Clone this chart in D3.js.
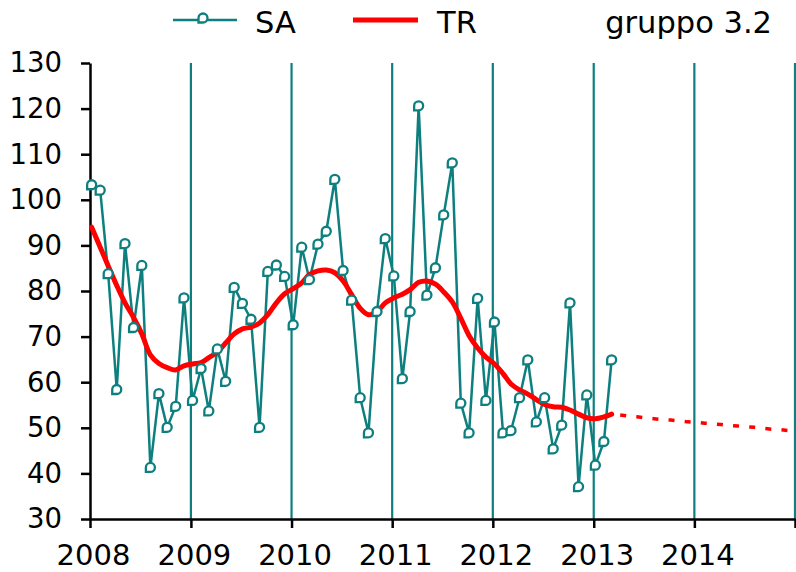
<!DOCTYPE html>
<html>
<head>
<meta charset="utf-8">
<script src="https://cdn.jsdelivr.net/npm/d3@7"></script>
<style>
  html, body { margin: 0; padding: 0; background: #fff; }
  svg { display: block; }
  text { font-family: "DejaVu Sans", Verdana, sans-serif; fill: #000; }
</style>
</head>
<body>
<svg id="chart" width="796" height="572"></svg>
<script>
// Monthly series, first observation January 2008
const firstMonth = "2008-01";

// Seasonally adjusted index (SA)
const saValues = [
  103.3, 102.1, 83.8, 58.4, 90.4, 72.0, 85.6, 41.3, 57.5, 50.1, 54.7, 78.5,
  56.0, 63.0, 53.7, 67.3, 60.2, 80.8, 77.3, 73.8, 50.1, 84.3, 85.7, 83.2,
  72.6, 89.6, 82.5, 90.3, 93.1, 104.5, 84.5, 78.0, 56.6, 48.9, 75.5, 91.5,
  83.3, 60.8, 75.5, 120.6, 79.1, 85.1, 96.7, 108.1, 55.4, 48.9, 78.4, 56.0,
  73.2, 48.9, 49.4, 56.6, 64.9, 51.3, 56.6, 45.4, 50.6, 77.4, 37.1, 57.2,
  41.8, 47.0, 64.9
];

// Trend-cycle (TR)
const trValues = [
  94.0, 89.6, 85.5, 81.2, 77.4, 74.2, 70.6, 66.0, 64.1, 63.2, 62.7, 63.6,
  64.0, 64.3, 65.4, 66.6, 68.6, 70.6, 71.7, 72.1, 73.0, 74.8, 77.4, 79.4,
  80.5, 81.8, 83.6, 84.4, 84.6, 84.0, 82.2, 79.2, 76.2, 74.8, 75.5, 77.4,
  78.5, 79.3, 80.3, 81.9, 82.2, 81.5, 79.8, 77.6, 74.0, 70.2, 67.5, 65.5,
  64.0, 61.9, 59.6, 58.3, 57.4, 56.2, 55.1, 54.6, 54.5, 53.9, 53.0, 52.2,
  52.0, 52.4, 53.0
];

// Trend projection, April 2013 – December 2014
const trForecast = [
  52.8, 52.6, 52.4, 52.2, 52.0, 51.8, 51.7, 51.5, 51.3,
  51.2, 51.0, 50.9, 50.7, 50.5, 50.4, 50.2, 50.1, 49.9, 49.7, 49.6, 49.4
];

const yTicks = [30, 40, 50, 60, 70, 80, 90, 100, 110, 120, 130];
const xTickYears = ["2008", "2009", "2010", "2011", "2012", "2013", "2014", "2015"];
const xLabelYears = ["2008", "2009", "2010", "2011", "2012", "2013", "2014"];
const gridYears = ["2009", "2010", "2011", "2012", "2013", "2014", "2015"];
const legendTitle = "gruppo 3.2";

const TEAL = "#0e7f7f";
const RED = "#ff0000";

const svg = d3.select("#chart");
const parseMonth = d3.utcParse("%Y-%m");
const parseYear = d3.utcParse("%Y");
const start = parseMonth(firstMonth);
// observations sit about a week into each month
const obsDate = i => d3.utcDay.offset(d3.utcMonth.offset(start, i), 6);

const x = d3.scaleUtc()
  .domain([parseYear("2008"), parseYear("2015")])
  .range([90, 795]);
const y = d3.scaleLinear().domain([30, 130]).range([519, 63]);

const sa = saValues.map((v, i) => ({ date: obsDate(i), v }));
const tr = trValues.map((v, i) => ({ date: obsDate(i), v }));
const fc = trForecast.map((v, i) => ({ date: obsDate(trValues.length + i), v }));

// yearly vertical gridlines
svg.append("g").selectAll("line")
  .data(gridYears.map(parseYear))
  .join("line")
  .attr("x1", d => x(d)).attr("x2", d => x(d))
  .attr("y1", y(130)).attr("y2", y(30))
  .attr("stroke", TEAL).attr("stroke-width", 2.2);

// y axis
const yAxis = svg.append("g")
  .attr("transform", `translate(${x(parseYear("2008"))},0)`)
  .call(d3.axisLeft(y).tickValues(yTicks).tickSize(9).tickSizeOuter(0).tickPadding(19));
yAxis.select(".domain").attr("stroke", "#000").attr("stroke-width", 2.5);
yAxis.selectAll(".tick line").attr("stroke", "#000").attr("stroke-width", 2.5);
yAxis.selectAll(".tick text")
  .style("font-family", '"DejaVu Sans", Verdana, sans-serif')
  .style("font-size", "27.5px").attr("fill", "#000");

// x axis
const xAxis = svg.append("g")
  .attr("transform", `translate(0,${y(30)})`)
  .call(d3.axisBottom(x).tickValues(xTickYears.map(parseYear)).tickSize(9).tickSizeOuter(0)
    .tickFormat(d => xLabelYears.includes(d3.utcFormat("%Y")(d)) ? d3.utcFormat("%Y")(d) : ""));
xAxis.select(".domain").attr("stroke", "#000").attr("stroke-width", 2.5);
xAxis.selectAll(".tick line").attr("stroke", "#000").attr("stroke-width", 2.5);
xAxis.selectAll(".tick text")
  .attr("y", 46).attr("dy", 0).attr("dx", 3)
  .style("font-family", '"DejaVu Sans", Verdana, sans-serif')
  .style("font-size", "29px").attr("fill", "#000");

// SA series
const lineSA = d3.line().x(d => x(d.date)).y(d => y(d.v));
svg.append("path")
  .datum(sa)
  .attr("d", lineSA)
  .attr("fill", "none").attr("stroke", TEAL).attr("stroke-width", 2.5)
  .attr("stroke-linejoin", "round");

// trend line
const lineTR = d3.line().x(d => x(d.date)).y(d => y(d.v)).curve(d3.curveCatmullRom);
svg.append("path")
  .datum(tr)
  .attr("d", lineTR)
  .attr("fill", "none").attr("stroke", RED).attr("stroke-width", 5)
  .attr("stroke-linecap", "round").attr("stroke-linejoin", "round");

// trend projection
svg.append("path")
  .datum(fc)
  .attr("d", d3.line().x(d => x(d.date)).y(d => y(d.v)))
  .attr("fill", "none").attr("stroke", RED).attr("stroke-width", 3.5)
  .attr("stroke-dasharray", "6 10.2");

// SA markers: small teardrop rings
const markerPath = "M-4.5,4.5 L-4.5,0 A4.5,4.5 0 1 1 0,4.5 Z";
svg.append("g").selectAll("path")
  .data(sa)
  .join("path")
  .attr("transform", d => `translate(${x(d.date)},${y(d.v)})`)
  .attr("d", markerPath)
  .attr("fill", "#fff").attr("stroke", TEAL).attr("stroke-width", 2.3);

// legend
const legend = svg.append("g");
legend.append("line")
  .attr("x1", 173).attr("x2", 237).attr("y1", 20).attr("y2", 20)
  .attr("stroke", TEAL).attr("stroke-width", 2.5);
legend.append("path")
  .attr("transform", "translate(203,18)")
  .attr("d", markerPath)
  .attr("fill", "#fff").attr("stroke", TEAL).attr("stroke-width", 2.3);
legend.append("text").attr("x", 255).attr("y", 33)
  .style("font-size", "30.5px").text("SA");
legend.append("line")
  .attr("x1", 353).attr("x2", 418).attr("y1", 20).attr("y2", 20)
  .attr("stroke", RED).attr("stroke-width", 5);
legend.append("text").attr("x", 437).attr("y", 33)
  .style("font-size", "30.5px").text("TR");
legend.append("text").attr("x", 772).attr("y", 33)
  .attr("text-anchor", "end")
  .style("font-size", "30.5px").text(legendTitle);
</script>
</body>
</html>
